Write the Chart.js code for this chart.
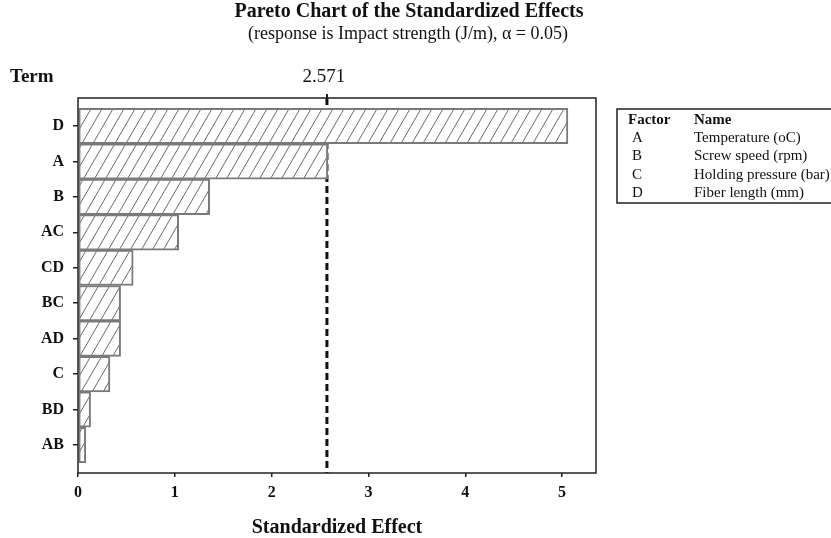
<!DOCTYPE html>
<html>
<head>
<meta charset="utf-8">
<script src="https://cdn.jsdelivr.net/npm/chart.js@4/dist/chart.umd.min.js"></script>
<style>
  html, body { margin: 0; padding: 0; background: #fff; }
  #wrap { width: 831px; height: 538px; }
</style>
</head>
<body>
<div id="wrap"><canvas id="c" width="831" height="538"></canvas></div>
<script>
// Terms in Pareto order (largest effect first) and their standardized effects
const terms = ['D', 'A', 'B', 'AC', 'CD', 'BC', 'AD', 'C', 'BD', 'AB'];
const effects = [5.06, 2.58, 1.36, 1.04, 0.57, 0.44, 0.44, 0.33, 0.13, 0.08];
// Critical t-value for alpha = 0.05
const critical = 2.571;
const xTickValues = [0, 1, 2, 3, 4, 5];
// Factor key
const factorCodes = ['A', 'B', 'C', 'D'];
const factorNames = ['Temperature (oC)', 'Screw speed (rpm)', 'Holding pressure (bar)', 'Fiber length (mm)'];

const SERIF = "'Liberation Serif', 'Times New Roman', serif";
const X_MAX = 5.35;
const Y_PAD = 0.79;

// Diagonal hatch fill for the bars
function makeHatch() {
  const w = 11, h = 19;
  const c = document.createElement('canvas');
  c.width = w; c.height = h;
  const g = c.getContext('2d');
  g.fillStyle = '#fff';
  g.fillRect(0, 0, w, h);
  g.strokeStyle = '#6a6a6a';
  g.lineWidth = 1;
  for (const dx of [-w, 0, w]) {
    g.beginPath();
    g.moveTo(dx, h);
    g.lineTo(dx + w, 0);
    g.stroke();
  }
  return g.createPattern(c, 'repeat');
}

// Titles, frame and factor key
const decorations = {
  id: 'decorations',
  afterDatasetsDraw(chart) {
    const ctx = chart.ctx;
    const a = chart.chartArea;
    ctx.save();
    ctx.strokeStyle = '#222';
    ctx.lineWidth = 1.5;
    ctx.strokeRect(a.left, a.top, a.right - a.left, a.bottom - a.top);
    ctx.restore();
  },
  afterDraw(chart) {
    const ctx = chart.ctx;
    ctx.save();
    ctx.fillStyle = '#111';
    ctx.textBaseline = 'middle';
    ctx.textAlign = 'center';
    ctx.font = 'bold 20px ' + SERIF;
    ctx.fillText('Pareto Chart of the Standardized Effects', 409, 12);
    ctx.font = '18px ' + SERIF;
    ctx.fillText('(response is Impact strength (J/m), \u03b1 = 0.05)', 408, 34);

    ctx.textAlign = 'left';
    ctx.font = 'bold 19px ' + SERIF;
    ctx.fillText('Term', 10, 77);

    // factor key box
    const bx = 617, by = 109, bw = 240, bh = 94;
    ctx.strokeStyle = '#222';
    ctx.lineWidth = 1.5;
    ctx.strokeRect(bx, by, bw, bh);
    ctx.font = 'bold 15px ' + SERIF;
    ctx.fillText('Factor', 628, 120);
    ctx.fillText('Name', 694, 120);
    ctx.font = '15px ' + SERIF;
    factorCodes.forEach((code, i) => {
      const y = 138 + i * 18.5;
      ctx.fillText(code, 632, y);
      ctx.fillText(factorNames[i], 694, y);
    });
    ctx.restore();
  }
};

const ctx = document.getElementById('c').getContext('2d');
new Chart(ctx, {
  type: 'bar',
  data: {
    datasets: [
      {
        type: 'bar',
        data: effects.map((v, i) => ({ x: v, y: i })),
        backgroundColor: makeHatch(),
        borderColor: '#7a7a7a',
        borderWidth: 2,
        borderSkipped: false,
        barPercentage: 1,
        categoryPercentage: 1,
        order: 0
      },
      {
        type: 'line',
        data: [{ x: critical, y: -Y_PAD }, { x: critical, y: terms.length - 1 + Y_PAD }],
        borderColor: '#111',
        borderWidth: 3,
        borderDash: [7, 4],
        pointRadius: 0,
        fill: false,
        order: 1
      }
    ]
  },
  options: {
    responsive: false,
    animation: false,
    indexAxis: 'y',
    layout: { padding: { left: 0, right: 235, top: 0, bottom: 0 } },
    plugins: { legend: { display: false }, tooltip: { enabled: false }, title: { display: false } },
    scales: {
      x: {
        type: 'linear',
        position: 'bottom',
        min: 0,
        max: X_MAX,
        offset: false,
        afterBuildTicks: s => { s.ticks = xTickValues.map(v => ({ value: v })); },
        afterFit: s => { s.height = 65; },
        ticks: {
          color: '#111',
          padding: 6,
          font: { family: SERIF, size: 16, weight: 'bold' },
          callback: v => String(v)
        },
        grid: { offset: false, drawOnChartArea: false, drawTicks: true, tickLength: 4, color: '#222', lineWidth: 1.5 },
        border: { display: false },
        title: {
          display: true,
          text: 'Standardized Effect',
          color: '#111',
          font: { family: SERIF, size: 20, weight: 'bold', lineHeight: 1 },
          padding: { top: 0, bottom: 0 }
        }
      },
      x2: {
        type: 'linear',
        position: 'top',
        min: 0,
        max: X_MAX,
        offset: false,
        afterBuildTicks: s => { s.ticks = [{ value: critical }]; },
        afterFit: s => { s.height = 98; },
        ticks: {
          color: '#111',
          padding: 6,
          labelOffset: -3,
          font: { family: SERIF, size: 19 },
          callback: v => v.toFixed(3)
        },
        grid: { offset: false, drawOnChartArea: false, drawTicks: true, tickLength: 4, color: '#222', lineWidth: 2 },
        border: { display: false }
      },
      y: {
        type: 'linear',
        position: 'left',
        reverse: true,
        offset: false,
        min: -Y_PAD,
        max: terms.length - 1 + Y_PAD,
        afterBuildTicks: s => { s.ticks = terms.map((t, i) => ({ value: i })); },
        afterFit: s => { s.width = 78; },
        ticks: {
          color: '#111',
          padding: 9,
          font: { family: SERIF, size: 16, weight: 'bold' },
          callback: v => terms[v]
        },
        grid: { offset: false, drawOnChartArea: false, drawTicks: true, tickLength: 5, color: '#222', lineWidth: 1.5 },
        border: { display: false }
      }
    }
  },
  plugins: [decorations]
});
</script>
</body>
</html>
